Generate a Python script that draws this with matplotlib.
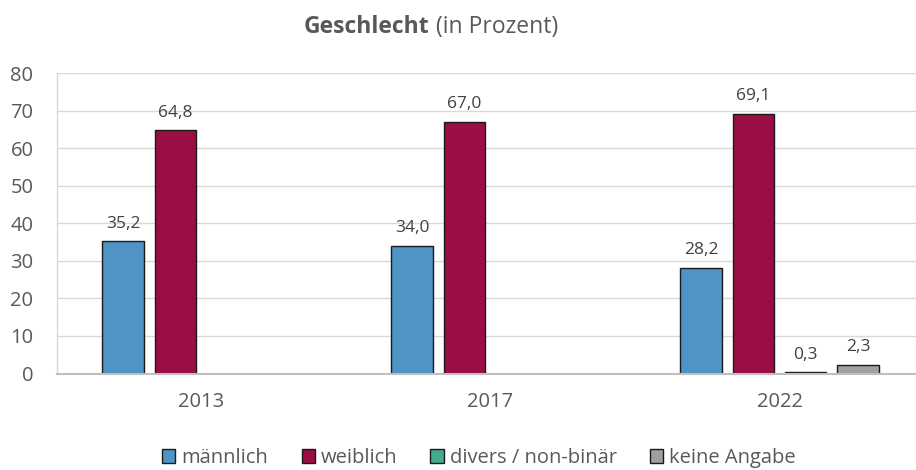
import numpy as np
import matplotlib
matplotlib.use("Agg")
import matplotlib.pyplot as plt
from matplotlib.patches import Patch

plt.rcParams['font.family'] = ['Open Sans', 'DejaVu Sans']

years = ["2013", "2017", "2022"]
series_names = ["männlich", "weiblich", "divers / non-binär", "keine Angabe"]
maennlich = [35.2, 34.0, 28.2]
weiblich = [64.8, 67.0, 69.1]
divers = [np.nan, np.nan, 0.3]
keine_angabe = [np.nan, np.nan, 2.3]
yticks = [0, 10, 20, 30, 40, 50, 60, 70, 80]

colors = ["#4F93C7", "#9A0D45", "#45A98F", "#A0A0A0"]
data = [maennlich, weiblich, divers, keine_angabe]

fig = plt.figure(figsize=(9.16, 4.70), dpi=100)
ax = fig.add_axes([57/916, 1 - 373.5/470, 1 - 57/916, (373.5 - 73.3)/470])

x = np.arange(len(years))
step = 0.181
width = 0.1436
txt_color = "#404040"
for i, (vals, col) in enumerate(zip(data, colors)):
    offs = (i - 1.5) * step
    vals_arr = np.array(vals, dtype=float)
    mask = ~np.isnan(vals_arr)
    ax.bar(x[mask] + offs, vals_arr[mask], width=width, color=col,
           edgecolor="#1a1a1a", linewidth=1.0, zorder=3)
    for xi, v in zip(x[mask] + offs, vals_arr[mask]):
        ax.annotate(f"{v:.1f}".replace(".", ","), (xi, v), xytext=(0, 7),
                    textcoords="offset points", ha="center", va="bottom",
                    fontsize=12.5, color=txt_color)

ax.set_xlim(-0.5, -0.5 + (916 - 57) / 289)
ax.set_ylim(0, 80)
ax.set_yticks(yticks)
ax.set_yticklabels([str(t) for t in yticks])
ax.set_xticks(x)
ax.set_xticklabels(years)
ax.tick_params(axis="y", length=0, pad=17, labelsize=14.5, labelcolor="#595959")
ax.tick_params(axis="x", length=0, pad=13, labelsize=14.5, labelcolor="#595959")
ax.grid(axis="y", color="#d9d9d9", linewidth=1.0, zorder=0)
ax.set_axisbelow(True)
for s in ["top", "right"]:
    ax.spines[s].set_visible(False)
ax.spines["left"].set_color("#d9d9d9")
ax.spines["left"].set_linewidth(1.0)
ax.spines["bottom"].set_color("#bfbfbf")
ax.spines["bottom"].set_linewidth(1.5)
ax.spines["bottom"].set_zorder(4)

# Title: bold and regular parts side by side, centred at x=431px
ty = 1 - 27/470
t1 = fig.text(0, ty, "Geschlecht", fontsize=16.5, fontweight="bold",
              color="#595959", ha="left", va="center")
t2 = fig.text(0, ty, " (in Prozent)", fontsize=16.5, color="#595959", ha="left", va="center")
fig.canvas.draw()
w1 = t1.get_window_extent().width
w2 = t2.get_window_extent().width
left = 431 - (w1 + w2) / 2
t1.set_x(left / 916)
t2.set_x((left + w1) / 916)

handles = [Patch(facecolor=c, edgecolor="#1a1a1a", linewidth=1.0) for c in colors]
leg = fig.legend(handles, series_names, loc="center", bbox_to_anchor=(479/916, 1 - 458/470),
                 ncol=4, frameon=False, fontsize=14.5, handlelength=0.65, handleheight=0.65,
                 handletextpad=0.3, columnspacing=1.65, labelcolor="#595959")

fig.savefig("out.png", dpi=100)
